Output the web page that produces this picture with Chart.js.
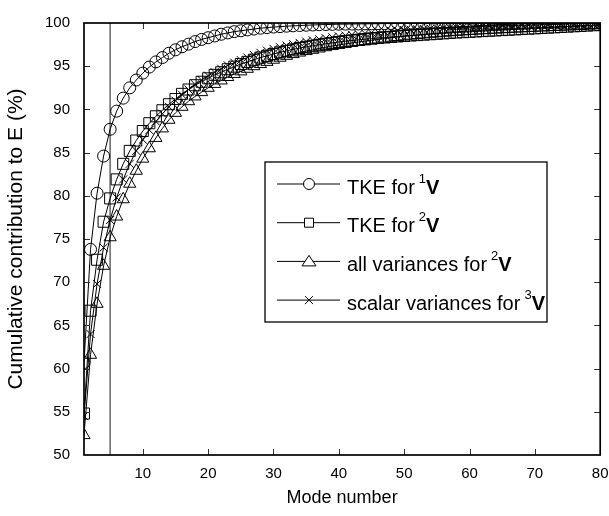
<!DOCTYPE html>
<html>
<head>
<meta charset="utf-8">
<script src="https://cdn.jsdelivr.net/npm/chart.js@4.4.0/dist/chart.umd.min.js"></script>
<style>
html, body { margin: 0; padding: 0; background: #fff; }
</style>
</head>
<body>
<canvas id="grafico" width="609" height="516"></canvas>
<script>
// numero de modo (eje x)
const modos = [
  1, 2, 3, 4, 5, 6, 7, 8, 9, 10, 11, 12, 13, 14, 15, 16, 17, 18, 19, 20,
  21, 22, 23, 24, 25, 26, 27, 28, 29, 30, 31, 32, 33, 34, 35, 36, 37, 38, 39, 40,
  41, 42, 43, 44, 45, 46, 47, 48, 49, 50, 51, 52, 53, 54, 55, 56, 57, 58, 59, 60,
  61, 62, 63, 64, 65, 66, 67, 68, 69, 70, 71, 72, 73, 74, 75, 76, 77, 78, 79, 80
];

// TKE for 1V (circulos)
const tkeV1 = [
  60.7, 73.8, 80.3, 84.6, 87.7, 89.8, 91.3, 92.5, 93.4, 94.2,
  94.9, 95.5, 96.0, 96.5, 96.9, 97.25, 97.55, 97.85, 98.1, 98.3,
  98.5, 98.7, 98.85, 99.0, 99.1, 99.2, 99.3, 99.4, 99.47, 99.53,
  99.58, 99.63, 99.67, 99.71, 99.74, 99.77, 99.8, 99.82, 99.84, 99.86,
  99.87, 99.88, 99.89, 99.9, 99.91, 99.92, 99.93, 99.94, 99.94, 99.95,
  99.95, 99.96, 99.96, 99.96, 99.97, 99.97, 99.97, 99.97, 99.98, 99.98,
  99.98, 99.98, 99.98, 99.98, 99.99, 99.99, 99.99, 99.99, 99.99, 99.99,
  99.99, 99.99, 100, 100, 100, 100, 100, 100, 100, 100
];

// TKE for 2V (cuadrados)
const tkeV2 = [
  54.8, 66.7, 72.6, 77.0, 79.7, 81.9, 83.7, 85.2, 86.4, 87.5,
  88.4, 89.2, 89.9, 90.6, 91.2, 91.8, 92.3, 92.8, 93.2, 93.6,
  94.0, 94.3, 94.65, 94.95, 95.25, 95.5, 95.75, 96.0, 96.2, 96.4,
  96.6, 96.78, 96.95, 97.1, 97.24, 97.37, 97.49, 97.6, 97.7, 97.8,
  97.89, 97.97, 98.05, 98.12, 98.19, 98.26, 98.32, 98.38, 98.44, 98.5,
  98.55, 98.6, 98.65, 98.7, 98.75, 98.8, 98.85, 98.9, 98.94, 98.98,
  99.02, 99.06, 99.1, 99.14, 99.18, 99.22, 99.26, 99.3, 99.34, 99.38,
  99.42, 99.46, 99.5, 99.54, 99.58, 99.62, 99.66, 99.7, 99.74, 99.78
];

// all variances for 2V (triangulos)
const todasV2 = [
  52.3, 61.6, 67.5, 71.9, 75.2, 77.6, 79.6, 81.4, 82.9, 84.3,
  85.5, 86.7, 87.8, 88.8, 89.6, 90.3, 90.95, 91.5, 92.0, 92.5,
  92.95, 93.35, 93.75, 94.1, 94.4, 94.7, 95.0, 95.25, 95.5, 95.75,
  95.98, 96.2, 96.4, 96.58, 96.75, 96.9, 97.05, 97.2, 97.33, 97.46,
  97.58, 97.7, 97.8, 97.9, 98.0, 98.1, 98.2, 98.3, 98.38, 98.46,
  98.54, 98.61, 98.68, 98.75, 98.81, 98.87, 98.93, 98.98, 99.03, 99.08,
  99.12, 99.16, 99.2, 99.24, 99.28, 99.32, 99.35, 99.38, 99.42, 99.45,
  99.48, 99.51, 99.54, 99.57, 99.6, 99.63, 99.66, 99.7, 99.74, 99.78
];

// scalar variances for 3V (cruces)
const escalaresV3 = [
  54.5, 64.0, 69.8, 74.0, 77.2, 79.8, 81.9, 83.7, 85.2, 86.5,
  87.6, 88.6, 89.5, 90.3, 91.0, 91.7, 92.3, 92.9, 93.4, 93.9,
  94.3, 94.7, 95.1, 95.4, 95.7, 96.0, 96.3, 96.55, 96.8, 97.0,
  97.2, 97.4, 97.55, 97.7, 97.85, 98.0, 98.12, 98.24, 98.35, 98.45,
  98.55, 98.64, 98.72, 98.8, 98.87, 98.94, 99.0, 99.06, 99.12, 99.17,
  99.22, 99.27, 99.31, 99.35, 99.39, 99.43, 99.46, 99.49, 99.52, 99.55,
  99.58, 99.61, 99.63, 99.66, 99.68, 99.7, 99.72, 99.74, 99.76, 99.78,
  99.8, 99.82, 99.84, 99.86, 99.88, 99.9, 99.92, 99.94, 99.96, 99.98
];

const ticksX = [10, 20, 30, 40, 50, 60, 70, 80];
const ticksY = [55, 60, 65, 70, 75, 80, 85, 90, 95];
const modoCorte = 5;

const leyenda = [
  { texto: 'TKE for', sup: '1', marca: 'circle' },
  { texto: 'TKE for', sup: '2', marca: 'rect' },
  { texto: 'all variances for', sup: '2', marca: 'triangle' },
  { texto: 'scalar variances for', sup: '3', marca: 'cross' }
];

const fuente = '"Liberation Sans", Arial, Helvetica, sans-serif';

function serie(valores) {
  return modos.map((m, i) => ({ x: m, y: valores[i] }));
}

function dataset(valores, estilo, radio) {
  return {
    data: serie(valores),
    borderColor: '#000',
    borderWidth: 1,
    pointStyle: estilo,
    pointRadius: radio,
    pointBorderColor: '#000',
    pointBorderWidth: 1,
    pointBackgroundColor: 'rgba(0,0,0,0)',
    tension: 0,
    fill: false
  };
}

// marca de la leyenda, dibujada a mano
function dibujarMarca(ctx, tipo, x, y) {
  ctx.beginPath();
  if (tipo === 'circle') {
    ctx.arc(x, y, 5.5, 0, Math.PI * 2);
  } else if (tipo === 'rect') {
    ctx.rect(x - 4.5, y - 4.5, 9, 9);
  } else if (tipo === 'triangle') {
    ctx.moveTo(x, y - 6);
    ctx.lineTo(x + 7, y + 4.5);
    ctx.lineTo(x - 7, y + 4.5);
    ctx.closePath();
  } else {
    ctx.moveTo(x - 4, y - 4); ctx.lineTo(x + 4, y + 4);
    ctx.moveTo(x + 4, y - 4); ctx.lineTo(x - 4, y + 4);
  }
  ctx.fillStyle = '#fff';
  if (tipo !== 'cross') ctx.fill();
  ctx.stroke();
}

const marco = {
  id: 'marco',
  beforeDatasetsDraw(chart) {
    const { ctx, chartArea: a, scales: { x } } = chart;
    const px = x.getPixelForValue(modoCorte);
    ctx.save();
    ctx.strokeStyle = '#666';
    ctx.lineWidth = 1.5;
    ctx.beginPath();
    ctx.moveTo(px, a.bottom);
    ctx.lineTo(px, a.top);
    ctx.stroke();
    ctx.restore();
  },
  afterDatasetsDraw(chart) {
    const { ctx, chartArea: a, scales: { x, y } } = chart;
    ctx.save();
    // ticks hacia dentro
    ctx.strokeStyle = '#333';
    ctx.lineWidth = 1;
    ctx.beginPath();
    ticksX.forEach(v => {
      const px = Math.round(x.getPixelForValue(v)) + 0.5;
      ctx.moveTo(px, a.bottom); ctx.lineTo(px, a.bottom - 6);
      ctx.moveTo(px, a.top); ctx.lineTo(px, a.top + 6);
    });
    ticksY.forEach(v => {
      const py = Math.round(y.getPixelForValue(v)) + 0.5;
      ctx.moveTo(a.left, py); ctx.lineTo(a.left + 6, py);
      ctx.moveTo(a.right, py); ctx.lineTo(a.right - 6, py);
    });
    ctx.stroke();

    // caja del grafico
    ctx.strokeStyle = '#000';
    ctx.lineWidth = 1.7;
    ctx.strokeRect(a.left, a.top, a.right - a.left, a.bottom - a.top);

    // leyenda
    const bx = 265, by = 162, bw = 282, bh = 160;
    ctx.fillStyle = '#fff';
    ctx.fillRect(bx, by, bw, bh);
    ctx.strokeStyle = '#000';
    ctx.lineWidth = 1.3;
    ctx.strokeRect(bx, by, bw, bh);

    leyenda.forEach((item, i) => {
      const ly = 184 + i * 38.7;
      ctx.strokeStyle = '#000';
      ctx.lineWidth = 1;
      ctx.beginPath();
      ctx.moveTo(277, ly); ctx.lineTo(340, ly);
      ctx.stroke();
      dibujarMarca(ctx, item.marca, 309, ly);

      const base = ly + 9.5;
      let tx = 347;
      ctx.fillStyle = '#000';
      ctx.textBaseline = 'alphabetic';
      ctx.textAlign = 'left';
      ctx.font = '20px ' + fuente;
      ctx.fillText(item.texto, tx, base);
      tx += ctx.measureText(item.texto).width + 4;
      ctx.font = '13px ' + fuente;
      ctx.fillText(item.sup, tx, base - 11);
      tx += ctx.measureText(item.sup).width;
      ctx.font = 'bold 20px ' + fuente;
      ctx.fillText('V', tx, base);
    });
    ctx.restore();
  }
};

const ctx = document.getElementById('grafico').getContext('2d');
const myChart = new Chart(ctx, {
  type: 'line',
  data: {
    datasets: [
      dataset(tkeV1, 'circle', 6),
      dataset(tkeV2, 'rect', 7.8),
      dataset(todasV2, 'triangle', 7),
      dataset(escalaresV3, 'crossRot', 5.7)
    ]
  },
  options: {
    responsive: false,
    devicePixelRatio: 1,
    animation: false,
    layout: { padding: { top: 15, right: 6, left: 0, bottom: 0 } },
    plugins: { legend: { display: false }, tooltip: { enabled: false } },
    scales: {
      x: {
        type: 'linear',
        min: 1,
        max: 80,
        grid: { display: false, drawTicks: false },
        border: { display: false },
        ticks: { font: { size: 15, family: fuente }, color: '#000', padding: 10, maxRotation: 0 },
        afterBuildTicks: (scale) => { scale.ticks = ticksX.map(v => ({ value: v })); },
        afterFit: (scale) => { scale.height = 61; scale.paddingLeft = 0; scale.paddingRight = 0; },
        title: { display: true, text: 'Mode number', color: '#000', font: { size: 18, family: fuente }, padding: { top: 0, bottom: 7 } }
      },
      y: {
        min: 50,
        max: 100,
        grid: { display: false, drawTicks: false },
        border: { display: false },
        ticks: { stepSize: 5, font: { size: 15, family: fuente }, color: '#000', padding: 14 },
        afterFit: (scale) => { scale.width = 84; },
        title: { display: true, text: 'Cumulative contribution to E (%)', color: '#000', font: { size: 21, family: fuente }, padding: { top: 4, bottom: 0 } }
      }
    }
  },
  plugins: [marco]
});
</script>
</body>
</html>
